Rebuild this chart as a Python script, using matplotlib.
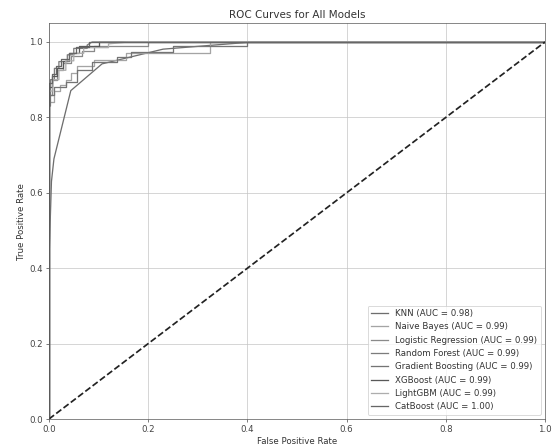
import matplotlib
matplotlib.use("Agg")
import matplotlib.pyplot as plt

# model names and AUC values shown in legend
models = ["KNN", "Naive Bayes", "Logistic Regression", "Random Forest",
          "Gradient Boosting", "XGBoost", "LightGBM", "CatBoost"]
aucs = [0.98, 0.99, 0.99, 0.99, 0.99, 0.99, 0.99, 1.00]

# ROC points (fpr, tpr)
knn_fpr = [0.0, 0.0, 0.005, 0.01, 0.044, 0.107, 0.23, 0.41, 1.0]
knn_tpr = [0.0, 0.42, 0.63, 0.69, 0.871, 0.942, 0.981, 1.0, 1.0]

nb_fpr = [0.0, 0.0, 0.011, 0.011, 0.022, 0.022, 0.034, 0.034, 0.045, 0.045, 0.056, 0.056, 0.09, 0.09, 0.155, 0.155, 0.325, 0.325, 1.0]
nb_tpr = [0.0, 0.84, 0.84, 0.87, 0.87, 0.885, 0.885, 0.9, 0.9, 0.917, 0.917, 0.935, 0.935, 0.952, 0.952, 0.97, 0.97, 1.0, 1.0]

lr_fpr = [0.0, 0.0, 0.006, 0.006, 0.017, 0.017, 0.028, 0.028, 0.045, 0.045, 0.067, 0.067, 0.09, 0.09, 0.2, 0.2, 1.0]
lr_tpr = [0.0, 0.86, 0.86, 0.9, 0.9, 0.925, 0.925, 0.945, 0.945, 0.963, 0.963, 0.975, 0.975, 0.99, 0.99, 1.0, 1.0]

rf_fpr = [0.0, 0.0, 0.003, 0.003, 0.011, 0.011, 0.02, 0.02, 0.037, 0.037, 0.05, 0.05, 0.077, 0.077, 0.087, 1.0]
rf_tpr = [0.0, 0.83, 0.83, 0.9, 0.9, 0.93, 0.93, 0.948, 0.948, 0.966, 0.966, 0.983, 0.983, 0.992, 1.0, 1.0]

gb_fpr = [0.0, 0.0, 0.011, 0.011, 0.034, 0.034, 0.056, 0.056, 0.087, 0.087, 0.137, 0.137, 0.165, 0.165, 0.25, 0.25, 0.4, 0.4, 1.0]
gb_tpr = [0.0, 0.86, 0.86, 0.88, 0.88, 0.895, 0.895, 0.926, 0.926, 0.948, 0.948, 0.961, 0.961, 0.974, 0.974, 0.99, 0.99, 1.0, 1.0]

xgb_fpr = [0.0, 0.0, 0.006, 0.006, 0.017, 0.017, 0.028, 0.028, 0.04, 0.04, 0.06, 0.06, 0.1, 0.1, 1.0]
xgb_tpr = [0.0, 0.88, 0.88, 0.91, 0.91, 0.93, 0.93, 0.95, 0.95, 0.97, 0.97, 0.99, 0.99, 1.0, 1.0]

lgb_fpr = [0.0, 0.0, 0.008, 0.008, 0.02, 0.02, 0.034, 0.034, 0.05, 0.05, 0.07, 0.07, 0.12, 0.12, 0.16, 1.0]
lgb_tpr = [0.0, 0.87, 0.87, 0.9, 0.9, 0.925, 0.925, 0.95, 0.95, 0.97, 0.97, 0.985, 0.985, 0.995, 1.0, 1.0]

cat_fpr = [0.0, 0.0, 0.006, 0.006, 0.014, 0.014, 0.025, 0.025, 0.04, 0.04, 0.055, 0.055, 0.08, 0.08, 1.0]
cat_tpr = [0.0, 0.89, 0.89, 0.915, 0.915, 0.935, 0.935, 0.955, 0.955, 0.972, 0.972, 0.988, 0.988, 1.0, 1.0]

colors = ["#6e6e6e", "#a4a4a4", "#8a8a8a", "#7c7c7c", "#747474", "#585858", "#adadad", "#666666"]

curves = [(knn_fpr, knn_tpr), (nb_fpr, nb_tpr), (lr_fpr, lr_tpr), (rf_fpr, rf_tpr),
          (gb_fpr, gb_tpr), (xgb_fpr, xgb_tpr), (lgb_fpr, lgb_tpr), (cat_fpr, cat_tpr)]

DPI = 62
plt.rcParams["text.color"] = "#333333"
plt.rcParams["axes.labelcolor"] = "#333333"
plt.rcParams["xtick.color"] = "#444444"
plt.rcParams["ytick.color"] = "#444444"
plt.rcParams["axes.edgecolor"] = "#555555"

fig = plt.figure(figsize=(554 / DPI, 445 / DPI), dpi=DPI)
ax = fig.add_subplot(111)
fig.subplots_adjust(left=0.0884, right=0.9838, bottom=0.0584, top=0.948)

for (fpr, tpr), name, auc, c in zip(curves, models, aucs, colors):
    ax.plot(fpr, tpr, color=c, lw=1.5, label=f"{name} (AUC = {auc:.2f})")

ax.plot([0, 1], [0, 1], "k--", lw=2, color="#222222")
ax.set_xlim(0.0, 1.0)
ax.set_ylim(0.0, 1.05)
ax.set_xlabel("False Positive Rate")
ax.set_ylabel("True Positive Rate")
ax.set_title("ROC Curves for All Models", fontsize=12)
ax.legend(loc="lower right")
ax.grid(True, color="#c4c4c4")

fig.savefig("out.png", dpi=DPI)
